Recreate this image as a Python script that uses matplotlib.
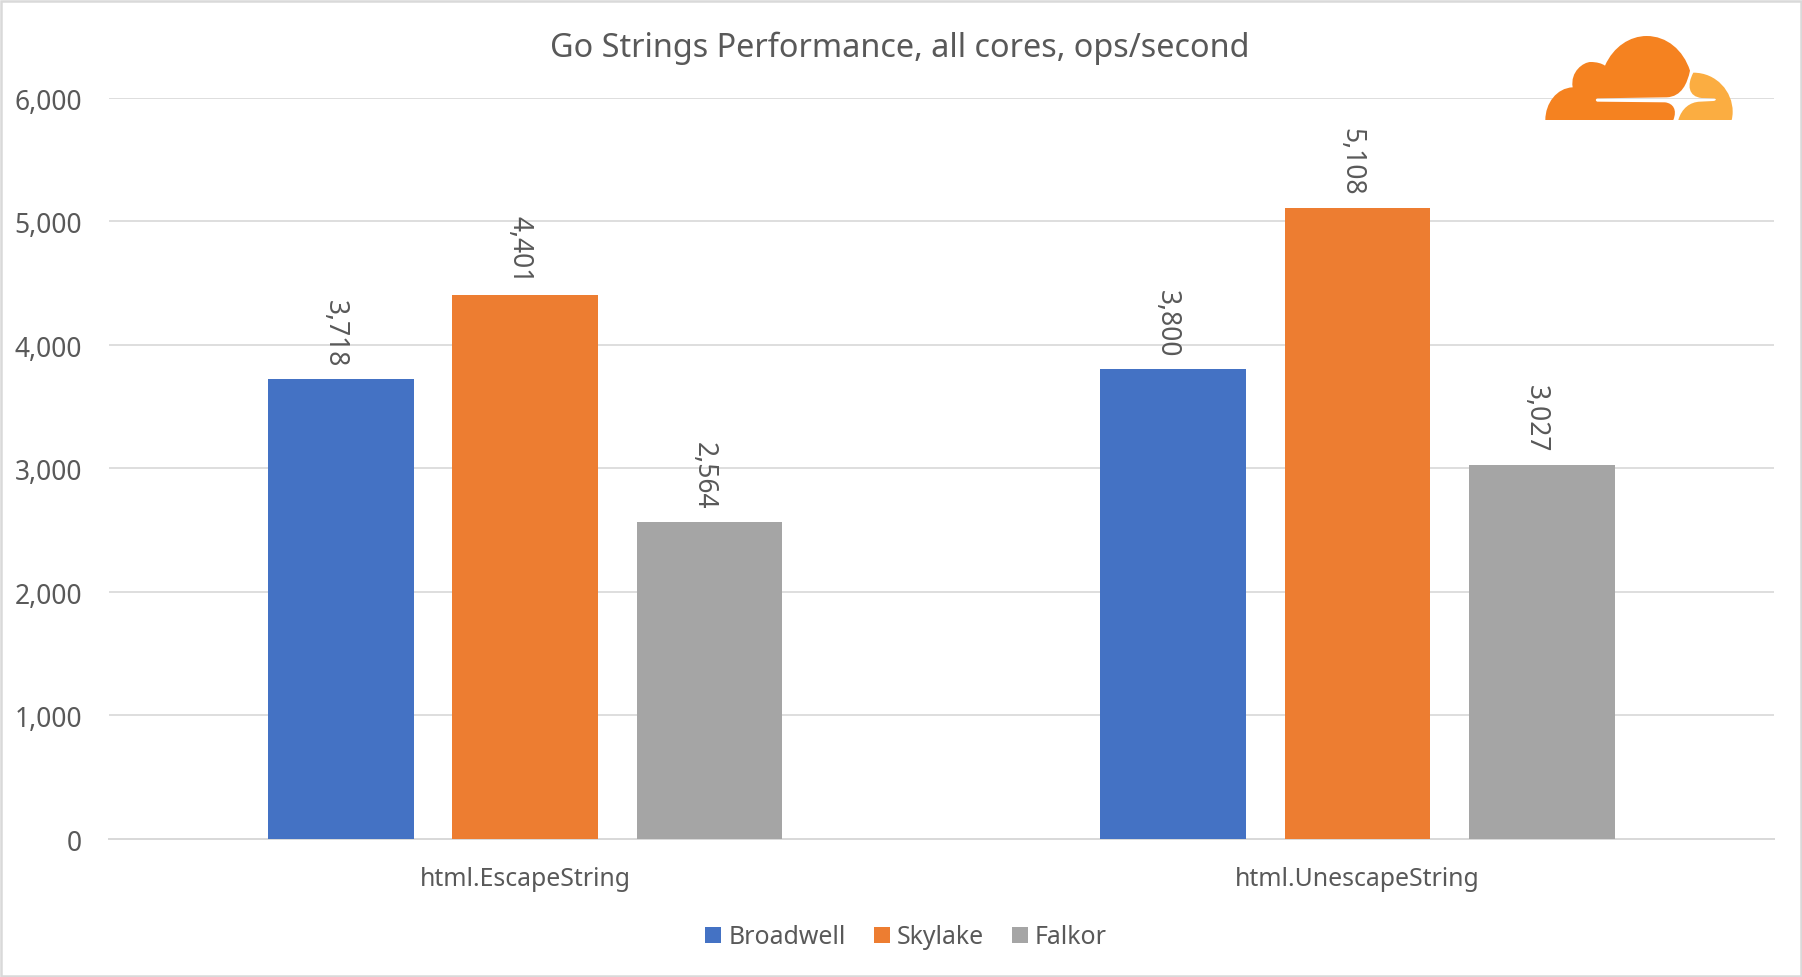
import numpy as np
import matplotlib
matplotlib.use("Agg")
import matplotlib.pyplot as plt
from matplotlib.path import Path
from matplotlib.patches import PathPatch, Rectangle
from matplotlib.transforms import ScaledTranslation

plt.rcParams['font.family'] = ['Noto Sans', 'DejaVu Sans']

categories = ["html.EscapeString", "html.UnescapeString"]
series_names = ["Broadwell", "Skylake", "Falkor"]
broadwell = [3718, 3800]
skylake = [4401, 5108]
falkor = [2564, 3027]
yticks = [0, 1000, 2000, 3000, 4000, 5000, 6000]

colors = ["#4472C4", "#ED7D31", "#A5A5A5"]
text_col = "#595959"
grid_col = "#D9D9D9"

W, H = 1802, 977
fig = plt.figure(figsize=(W/100, H/100), dpi=100)
px = 100/72.  # points to pixels

# plot area in pixels
left, right, top, bottom = 109, 1773.5, 97.5, 838.7
ax = fig.add_axes([left/W, 1-bottom/H, (right-left)/W, (bottom-top)/H])

x = np.arange(len(categories))
width = 0.175
step = 0.2215
for i, vals in enumerate([broadwell, skylake, falkor]):
    bars = ax.bar(x + (i-1)*step, vals, width, color=colors[i], label=series_names[i], zorder=3)
    for b, v in zip(bars, vals):
        ax.annotate(f"{v:,}", (b.get_x()+b.get_width()/2, v), xytext=(-6, 12), textcoords="offset pixels",
                    rotation=270, ha="center", va="bottom", fontsize=19, color=text_col)

ax.set_xlim(-0.5, 1.5)
ax.set_ylim(0, 6000)
ax.set_yticks(yticks)
ax.set_yticklabels([f"{v:,}" for v in yticks], fontsize=19, color=text_col)
ax.set_xticks(x)
ax.set_xticklabels(categories, fontsize=17.9, color=text_col)
ax.tick_params(axis="both", length=0)
ax.tick_params(axis="x", pad=20.5)
ax.tick_params(axis="y", pad=19.5)
# nudge the y labels down a touch
nudge = ScaledTranslation(0, -1.5/100, fig.dpi_scale_trans)
for lab in ax.get_yticklabels():
    lab.set_transform(lab.get_transform() + nudge)
ax.grid(axis="y", color=grid_col, linewidth=1.7/px, zorder=0)
for s in ["top", "right", "left"]:
    ax.spines[s].set_visible(False)
ax.spines["bottom"].set_color(grid_col)
ax.spines["bottom"].set_linewidth(2/px)

fig.text(899.5/W, 1-48.5/H, "Go Strings Performance, all cores, ops/second", ha="center", va="center",
         fontsize=23.3, color=text_col)

fig.legend(loc="center", bbox_to_anchor=(906/W, 1-937.5/H), ncol=3, frameon=False, fontsize=17.9,
           labelcolor=text_col, handlelength=0.64, handleheight=0.64, handletextpad=0.28, columnspacing=1.13)

# overlay in pixel coordinates for the frame and the logo
ov = fig.add_axes([0, 0, 1, 1], zorder=5)
ov.set_xlim(0, W)
ov.set_ylim(H, 0)
ov.axis("off")
ov.patch.set_alpha(0)
ov.add_patch(Rectangle((1, 1), W-2, H-2, fill=False, edgecolor=grid_col, linewidth=2.5/px))

def logo_pt(a, b):
    return (1500 + a/3., b/3.)

M, L, C = Path.MOVETO, Path.LINETO, Path.CURVE4
main = [
    ((136, 360), M),
    ((136, 310), C), ((170, 264), C), ((218, 262), C),
    ((210, 215), C), ((250, 186), C), ((272, 186), C),
    ((290, 186), C), ((305, 190), C), ((315, 197), C),
    ((340, 140), C), ((390, 108), C), ((440, 108), C),
    ((500, 108), C), ((550, 150), C), ((570, 212), C),
    ((562, 250), C), ((545, 290), C), ((500, 292), C),
    ((292, 295), L),
    ((286, 297), C), ((286, 303), C), ((292, 305), C),
    ((495, 307), L),
    ((520, 310), C), ((532, 330), C), ((520, 360), C),
    ((136, 360), L),
]
light = [
    ((535, 360), M),
    ((545, 325), C), ((570, 306), C), ((600, 305), C),
    ((640, 303), L),
    ((650, 302), C), ((650, 295), C), ((640, 295), C),
    ((605, 294), L),
    ((565, 290), C), ((560, 255), C), ((580, 218), C),
    ((650, 218), C), ((698, 275), C), ((698, 335), C),
    ((698, 345), C), ((697, 352), C), ((695, 360), C),
    ((535, 360), L),
]
for shape, col in [(main, "#F58220"), (light, "#FBAD41")]:
    path = Path([logo_pt(*p) for p, _ in shape], [c for _, c in shape])
    ov.add_patch(PathPatch(path, facecolor=col, edgecolor="none"))

fig.savefig("out.png", dpi=100, facecolor="white")
